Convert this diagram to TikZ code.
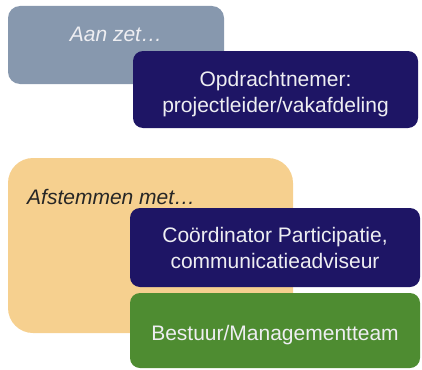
\documentclass[tikz,border=0pt]{standalone}
\usepackage{fontspec}
\setmainfont{Liberation Sans}
\usepackage{tikz}
\definecolor{steel}{HTML}{8798AE}
\definecolor{navy}{HTML}{1E1565}
\definecolor{peach}{HTML}{F6D08F}
\definecolor{grass}{HTML}{4E8C31}
\definecolor{paper}{HTML}{EEEEF2}
\tikzset{
  pbox/.style={rectangle,rounded corners=10pt,inner sep=0pt,draw=none},
  steelbox/.style={pbox,fill=steel,minimum width=216pt,minimum height=78pt,rounded corners=12pt},
  navybox/.style={pbox,fill=navy,minimum width=288pt,minimum height=78pt},
  peachbox/.style={pbox,fill=peach,minimum width=285pt,minimum height=175pt,rounded corners=25pt},
  grassbox/.style={pbox,fill=grass,minimum width=290pt,minimum height=75pt},
  ptext/.style={inner sep=0pt,align=center,text=paper,font=\fontsize{21}{26}\selectfont},
  ititle/.style={ptext,font=\fontsize{21}{26}\selectfont\itshape},
}

\begin{document}
\begin{tikzpicture}[x=1pt,y=-1pt]
  \useasboundingbox (0,0) rectangle (422,369);

  % top group
  \node[steelbox] (aanzet) at (116,45){};
  \node[navybox,minimum width=285pt,minimum height=77pt] (opdracht) at (275.5,89.5){};
  \node[ititle] (aanzettxt) at (116,34){Aan zet\ldots};
  \node[ptext] (opdrachttxt) at ([yshift=-5pt]opdracht.center)
    {Opdrachtnemer:\\projectleider/vakafdeling};

  % bottom group
  \node[peachbox] (afstem) at (150.5,245.5){};
  \node[navybox,minimum width=290pt,minimum height=79pt] (coord) at (275,247.5){};
  \node[grassbox] (bestuur) at (275,330.5){};
  \node[ititle,text=black!85,anchor=base west] (afstemtxt) at (27,204){Afstemmen met\ldots};
  \node[ptext] (coordtxt) at (coord.center)
    {Coördinator Participatie,\\communicatieadviseur};
  \node[ptext] (bestuurtxt) at ([yshift=-4.5pt]bestuur.center){Bestuur/Managementteam};
\end{tikzpicture}
\end{document}
